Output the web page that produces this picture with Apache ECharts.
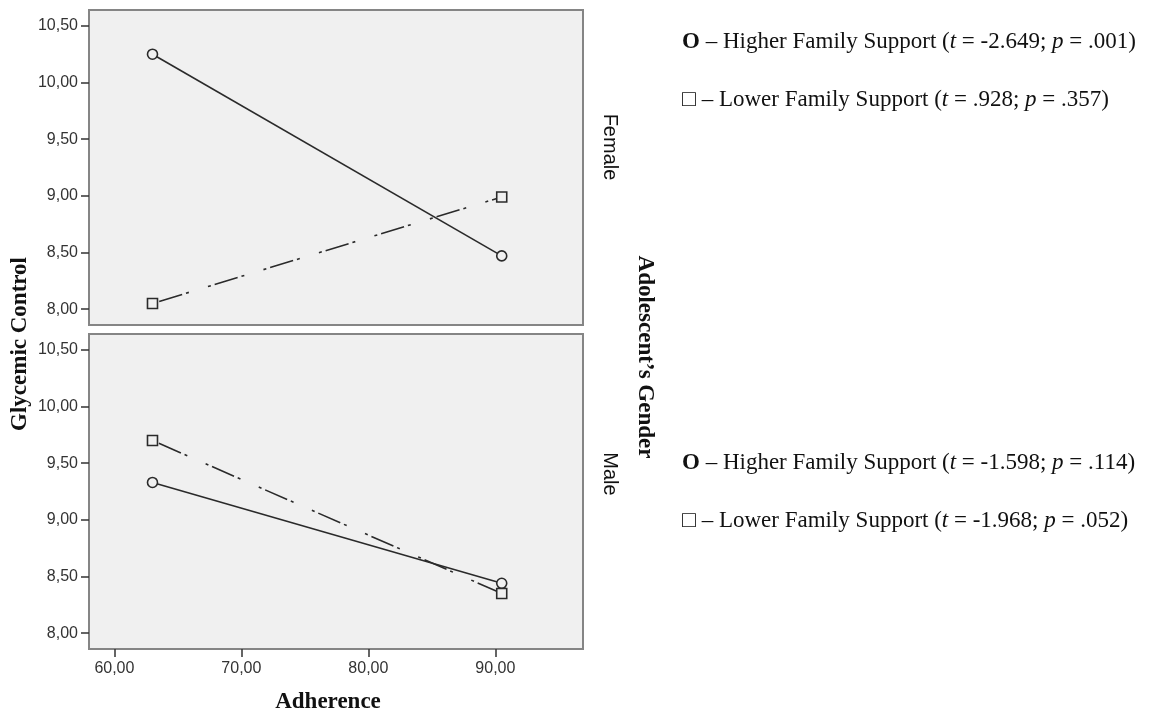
<!DOCTYPE html>
<html>
<head>
<meta charset="utf-8">
<script src="https://cdn.jsdelivr.net/npm/echarts@6/dist/echarts.min.js"></script>
<style>html,body{margin:0;padding:0;background:#fff;}#c{width:1150px;height:714px;}</style>
</head>
<body>
<div id="c"></div>
<script>
// ---- data ----
var adherence = [63.0, 90.5];
var femaleHigher = [10.25, 8.47];
var femaleLower = [8.05, 8.99];
var maleHigher = [9.33, 8.44];
var maleLower = [9.70, 8.35];
var xTicks = [60, 70, 80, 90];
var yTicks = [8.0, 8.5, 9.0, 9.5, 10.0, 10.5];
var panelLabels = ['Female', 'Male'];
var legendFemale = [
  '{b|O} – Higher Family Support ({i|t} = -2.649; {i|p} = .001)',
  '□ – Lower Family Support ({i|t} = .928; {i|p} = .357)'
];
var legendMale = [
  '{b|O} – Higher Family Support ({i|t} = -1.598; {i|p} = .114)',
  '□ – Lower Family Support ({i|t} = -1.968; {i|p} = .052)'
];

function pairs(xs, ys) { return xs.map(function (x, i) { return [x, ys[i]]; }); }
function fmt(v) { return v.toFixed(2).replace('.', ','); }

var chart = echarts.init(document.getElementById('c'));
var gridBase = { left: 89, width: 494, height: 315, show: true, backgroundColor: '#f0f0f0', borderColor: '#858585', borderWidth: 2, containLabel: false };
var xBase = { type: 'value', min: 58, max: 96.9, splitLine: { show: false }, axisLine: { show: false } };
var sans = 'Liberation Sans, Arial';
var yBase = {
  type: 'value', min: 7.86, max: 10.64, splitLine: { show: false }, axisLine: { show: false },
  axisTick: { show: true, length: 8, lineStyle: { color: '#333', width: 1.5 }, customValues: yTicks },
  axisLabel: { show: true, customValues: yTicks, formatter: fmt, fontFamily: sans, fontSize: 16, color: '#333', margin: 11 }
};
var lineSolid = { color: '#2a2a2a', width: 1.6, type: 'solid' };
var lineDash = { color: '#2a2a2a', width: 1.6, type: [3, 4, 24, 4, 3, 20] };
function ser(xi, ys, sym, ls) {
  return {
    type: 'line', xAxisIndex: xi, yAxisIndex: xi, data: pairs(adherence, ys), symbol: sym, symbolSize: 10,
    showAllSymbol: true, lineStyle: ls, itemStyle: { color: '#f0f0f0', borderColor: '#2a2a2a', borderWidth: 1.6 },
    emphasis: { disabled: true }, animation: false, z: 3
  };
}
var serif = 'Liberation Serif, Times New Roman, DejaVu Serif';
var fs = 23;
var rich = { b: { fontWeight: 'bold', fontFamily: serif, fontSize: fs, fill: '#111' }, i: { fontStyle: 'italic', fontFamily: serif, fontSize: fs, fill: '#111' } };
function legendText(txt, y) {
  return { type: 'text', x: 682, y: y, silent: true, style: { text: txt, rich: rich, fontFamily: serif, fontSize: fs, fill: '#111', verticalAlign: 'middle' } };
}
chart.setOption({
  animation: false,
  grid: [Object.assign({ top: 10 }, gridBase), Object.assign({ top: 334 }, gridBase)],
  xAxis: [
    Object.assign({ gridIndex: 0, axisTick: { show: false }, axisLabel: { show: false } }, xBase),
    Object.assign({ gridIndex: 1,
      axisTick: { show: true, length: 8, lineStyle: { color: '#333', width: 1.5 }, customValues: xTicks },
      axisLabel: { show: true, customValues: xTicks, formatter: fmt, fontFamily: sans, fontSize: 16, color: '#333', margin: 12 } }, xBase)
  ],
  yAxis: [Object.assign({ gridIndex: 0 }, yBase), Object.assign({ gridIndex: 1 }, yBase)],
  series: [
    ser(0, femaleHigher, 'circle', lineSolid),
    ser(0, femaleLower, 'rect', lineDash),
    ser(1, maleHigher, 'circle', lineSolid),
    ser(1, maleLower, 'rect', lineDash)
  ],
  graphic: [
    { type: 'text', x: 20, y: 344, rotation: Math.PI / 2, silent: true, style: { text: 'Glycemic Control', fontFamily: serif, fontWeight: 'bold', fontSize: fs, fill: '#111', align: 'center', verticalAlign: 'middle' } },
    { type: 'text', x: 328, y: 702, silent: true, style: { text: 'Adherence', fontFamily: serif, fontWeight: 'bold', fontSize: fs, fill: '#111', align: 'center', verticalAlign: 'middle' } },
    { type: 'text', x: 610, y: 147, rotation: -Math.PI / 2, silent: true, style: { text: panelLabels[0], fontFamily: sans, fontSize: 20, fill: '#111', align: 'center', verticalAlign: 'middle' } },
    { type: 'text', x: 610, y: 474, rotation: -Math.PI / 2, silent: true, style: { text: panelLabels[1], fontFamily: sans, fontSize: 20, fill: '#111', align: 'center', verticalAlign: 'middle' } },
    { type: 'text', x: 645, y: 357, rotation: -Math.PI / 2, silent: true, style: { text: 'Adolescent’s Gender', fontFamily: serif, fontWeight: 'bold', fontSize: fs, fill: '#111', align: 'center', verticalAlign: 'middle' } },
    legendText(legendFemale[0], 42),
    legendText(legendFemale[1], 100),
    legendText(legendMale[0], 463),
    legendText(legendMale[1], 521)
  ]
});
</script>
</body>
</html>
